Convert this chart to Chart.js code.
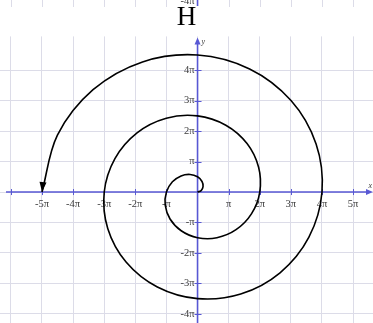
<!DOCTYPE html>
<html>
<head>
<meta charset="utf-8">
<script src="https://cdn.jsdelivr.net/npm/chart.js@4.4.1/dist/chart.umd.min.js"></script>
<style>
  html, body { margin: 0; padding: 0; background: #fff; }
  #wrap { width: 373px; height: 323px; }
</style>
</head>
<body>
<div id="wrap"><canvas id="spiral"></canvas></div>
<script>
// spiral r = theta, one point every pi/8 of turn, theta from 0 to 5pi
// (both coordinates in multiples of pi)
const spiralX = [0, 0.115, 0.177, 0.144, 0, -0.239, -0.530, -0.808,
                 -1, -1.039, -0.884, -0.526, 0, 0.622, 1.237, 1.732,
                 2, 1.963, 1.591, 0.909, 0, -1.005, -1.945, -2.656,
                 -3, -2.887, -2.298, -1.292, 0, 1.387, 2.652, 3.580,
                 4, 3.811, 3.005, 1.674, 0, -1.770, -3.359, -4.504,
                 -5];
const spiralY = [0, 0.048, 0.177, 0.346, 0.5, 0.577, 0.530, 0.335,
                 0, -0.431, -0.884, -1.270, -1.5, -1.501, -1.237, -0.718,
                 0, 0.813, 1.591, 2.194, 2.5, 2.425, 1.945, 1.100,
                 0, -1.196, -2.298, -3.118, -3.5, -3.349, -2.652, -1.483,
                 0, 1.579, 3.005, 4.042, 4.5, 4.273, 3.359, 1.866,
                 0];
// point on the shaft just before the arrow tip
const arrowTail = [-4.97, 0.3];

const xTicks = [-6, -5, -4, -3, -2, -1, 0, 1, 2, 3, 4, 5];
const xTickLabels = ['', '-5π', '-4π', '-3π', '-2π', '-π', '', 'π', '2π', '3π', '4π', '5π'];
const yTicks = [-4, -3, -2, -1, 0, 1, 2, 3, 4];
const yTickLabels = ['-4π', '-3π', '-2π', '-π', '', 'π', '2π', '3π', '4π'];

const AXIS_BLUE = '#5858d4';
const GRID = '#dcdce8';
const LABEL = '#3a3a3a';
const SERIF = '"Liberation Serif", "DejaVu Serif", serif';

const piAxes = {
    id: 'piAxes',
    beforeDatasetsDraw(chart) {
        const { ctx, chartArea: a, scales: { x, y } } = chart;
        const ox = x.getPixelForValue(0);
        const oy = y.getPixelForValue(0);
        ctx.save();
        ctx.strokeStyle = AXIS_BLUE;
        ctx.fillStyle = AXIS_BLUE;
        ctx.lineWidth = 1.6;
        ctx.beginPath();
        ctx.moveTo(a.left + 6, oy);
        ctx.lineTo(a.right - 4, oy);
        ctx.moveTo(ox, a.bottom);
        ctx.lineTo(ox, a.top + 4);
        ctx.stroke();

        // tick marks across the axes
        ctx.lineWidth = 1;
        ctx.beginPath();
        xTicks.forEach(v => {
            if (v === 0) return;
            const px = Math.round(x.getPixelForValue(v)) + 0.5;
            ctx.moveTo(px, oy - 3);
            ctx.lineTo(px, oy + 3);
        });
        yTicks.forEach(v => {
            if (v === 0) return;
            const py = Math.round(y.getPixelForValue(v)) + 0.5;
            ctx.moveTo(ox - 3, py);
            ctx.lineTo(ox + 4, py);
        });
        ctx.stroke();

        // arrow ends
        ctx.beginPath();
        ctx.moveTo(a.right, oy);
        ctx.lineTo(a.right - 7, oy - 3);
        ctx.lineTo(a.right - 7, oy + 3);
        ctx.closePath();
        ctx.fill();
        ctx.beginPath();
        ctx.moveTo(ox, a.top + 1);
        ctx.lineTo(ox - 3, a.top + 8);
        ctx.lineTo(ox + 3, a.top + 8);
        ctx.closePath();
        ctx.fill();

        // tick labels
        ctx.fillStyle = LABEL;
        ctx.font = '10.5px ' + SERIF;
        ctx.textAlign = 'center';
        ctx.textBaseline = 'middle';
        xTicks.forEach((v, i) => {
            if (!xTickLabels[i]) return;
            ctx.fillText(xTickLabels[i], x.getPixelForValue(v), oy + 12);
        });
        ctx.textAlign = 'right';
        yTicks.forEach((v, i) => {
            if (!yTickLabels[i]) return;
            ctx.fillText(yTickLabels[i], ox - 3, y.getPixelForValue(v));
        });

        ctx.font = 'italic 8px ' + SERIF;
        ctx.textAlign = 'right';
        ctx.fillText('x', a.right - 1, oy - 6);
        ctx.textAlign = 'left';
        ctx.fillText('y', ox + 4, a.top + 5);
        ctx.restore();
    },
    afterDatasetsDraw(chart) {
        const { ctx, scales: { x, y } } = chart;
        const last = spiralX.length - 1;
        const tx = x.getPixelForValue(spiralX[last]);
        const ty = y.getPixelForValue(spiralY[last]);
        const ang = Math.atan2(ty - y.getPixelForValue(arrowTail[1]), tx - x.getPixelForValue(arrowTail[0]));
        ctx.save();
        ctx.translate(tx, ty);
        ctx.rotate(ang);
        ctx.fillStyle = '#000';
        ctx.beginPath();
        ctx.moveTo(0, 0);
        ctx.lineTo(-10, -3.5);
        ctx.lineTo(-10, 3.5);
        ctx.closePath();
        ctx.fill();
        ctx.restore();
    },
    afterDraw(chart) {
        // bottom edge of the neighbouring panel above
        const { ctx, scales: { x } } = chart;
        const ox = x.getPixelForValue(0);
        ctx.save();
        ctx.strokeStyle = GRID;
        ctx.lineWidth = 1;
        ctx.beginPath();
        xTicks.forEach(v => {
            if (v === 0) return;
            const px = Math.round(x.getPixelForValue(v)) + 0.5;
            ctx.moveTo(px, 0);
            ctx.lineTo(px, 7);
        });
        ctx.stroke();
        ctx.strokeStyle = AXIS_BLUE;
        ctx.lineWidth = 1.6;
        ctx.beginPath();
        ctx.moveTo(ox, 0);
        ctx.lineTo(ox, 6);
        ctx.stroke();
        ctx.fillStyle = LABEL;
        ctx.font = '10.5px ' + SERIF;
        ctx.textAlign = 'right';
        ctx.textBaseline = 'alphabetic';
        ctx.fillText('-4π', ox - 3, 3.5);
        ctx.restore();
    }
};

const points = spiralX.map((v, i) => ({ x: v, y: spiralY[i] }));

new Chart(document.getElementById('spiral'), {
    type: 'scatter',
    data: {
        datasets: [{
            data: points,
            showLine: true,
            borderColor: '#000',
            borderWidth: 1.6,
            pointRadius: 0,
            tension: 0.34,
            fill: false
        }]
    },
    options: {
        responsive: true,
        maintainAspectRatio: false,
        animation: false,
        layout: { padding: 0 },
        plugins: {
            legend: { display: false },
            tooltip: { enabled: false },
            title: {
                display: true,
                text: 'H',
                color: '#000',
                font: { family: SERIF, size: 27, weight: 'normal' },
                padding: { top: 2, bottom: 2 }
            }
        },
        scales: {
            x: {
                type: 'linear',
                min: -6.35,
                max: 5.64,
                afterBuildTicks: s => { s.ticks = xTicks.map(v => ({ value: v })); },
                afterFit: s => { s.height = 0; },
                ticks: { display: false },
                grid: { color: GRID, drawTicks: false },
                border: { display: false }
            },
            y: {
                type: 'linear',
                min: -4.3,
                max: 5.11,
                afterBuildTicks: s => { s.ticks = yTicks.map(v => ({ value: v })); },
                afterFit: s => { s.width = 0; },
                ticks: { display: false },
                grid: { color: GRID, drawTicks: false },
                border: { display: false }
            }
        }
    },
    plugins: [piAxes]
});
</script>
</body>
</html>
